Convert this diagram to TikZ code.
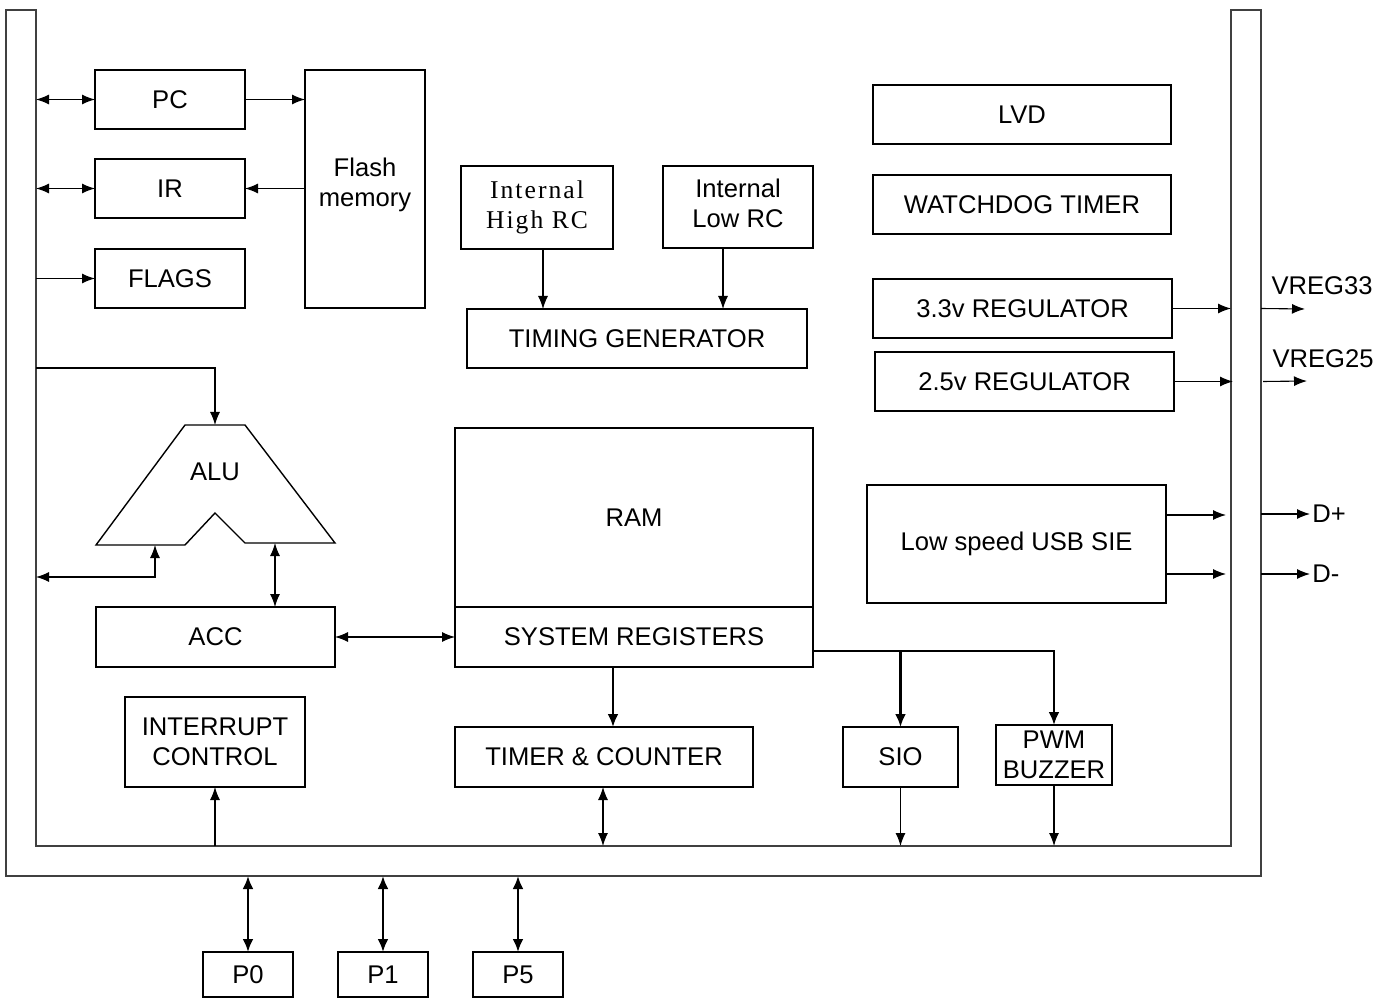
\documentclass[tikz,border=0pt]{standalone}
\usepackage{fontspec}
\setmainfont{Liberation Sans}
\newfontfamily\rcfont[LetterSpace=8]{Liberation Serif}
\usetikzlibrary{arrows.meta}
\newcommand\mybox[6]{\node[box, minimum width={(#4-#2)*0.5pt}, minimum height={(#5-#3)*0.5pt}] (#1) at ({(#2+#4)/2},{(#3+#5)/2}) {#6};}
\begin{document}
\begin{tikzpicture}[x=0.5pt,y=-0.5pt,
  box/.style={draw, line width=0.8pt, inner sep=0pt, outer sep=0pt, align=center, font=\fontsize{12.8}{15}\selectfont},
  lbl/.style={inner sep=0pt, font=\fontsize{12.8}{15}\selectfont},
  bus/.style={draw=black!75, line width=0.6pt},
  con/.style={line width=0.55pt, -{Latex[length=6.5pt,width=5pt]}},
  dcon/.style={line width=0.55pt, {Latex[length=6.5pt,width=5pt]}-{Latex[length=6.5pt,width=5pt]}},
  tcon/.style={line width=1.2pt, -{Latex[length=6.5pt,width=5.5pt]}},
  tdcon/.style={line width=1.2pt, {Latex[length=6.5pt,width=5.5pt]}-{Latex[length=6.5pt,width=5.5pt]}}
]
\useasboundingbox (0,0) rectangle (1391,999);
% bus
\draw[bus] (36,10) -- (6,10) -- (6,876) -- (1261,876) -- (1261,10) -- (1231,10) -- (1231,846) -- (36,846) -- cycle;
\coordinate (busL) at (36,0);
\coordinate (busR) at (1231,0);
\coordinate (busB) at (0,846);
\coordinate (outR) at (1261,0);
\coordinate (outB) at (0,876);
% boxes
\mybox{pc}{95}{70}{245}{129}{PC}
\mybox{ir}{95}{159}{245}{218}{IR}
\mybox{flags}{95}{249}{245}{308}{FLAGS}
\mybox{flash}{305}{70}{425}{308}{Flash\\memory\\[-8pt]}
\mybox{hrc}{461}{166}{613}{249}{{\rcfont Internal}\\{\rcfont High RC}}
\mybox{lrc}{663}{166}{813}{248}{Internal\\Low RC\\[-11pt]}
\mybox{tg}{467}{309}{807}{368}{TIMING GENERATOR}
\mybox{lvd}{873}{85}{1171}{144}{LVD}
\mybox{wdt}{873}{175}{1171}{234}{WATCHDOG TIMER}
\mybox{r33}{873}{279}{1172}{338}{3.3v REGULATOR}
\mybox{r25}{875}{352}{1174}{411}{2.5v REGULATOR}
\mybox{usb}{867}{485}{1166}{603}{Low speed USB SIE}
\mybox{ram}{455}{428}{813}{607}{RAM}
\mybox{sr}{455}{607}{813}{667}{SYSTEM REGISTERS}
\mybox{acc}{96}{607}{335}{667}{ACC}
\mybox{ic}{125}{697}{305}{787}{INTERRUPT\\CONTROL}
\mybox{tc}{455}{727}{753}{787}{TIMER \& COUNTER}
\mybox{sio}{843}{727}{958}{787}{SIO}
\mybox{pwm}{996}{725}{1112}{785}{PWM\\BUZZER}
\mybox{p0}{203}{952}{293}{997}{P0}
\mybox{p1}{338}{952}{428}{997}{P1}
\mybox{p5}{473}{952}{563}{997}{P5}
% ALU
\draw[line width=0.7pt] (185,425) -- (245,425) -- (335,543) -- (245,543) -- (215,513) -- (185,545) -- (96,545) -- cycle;
\node[lbl] (alu) at (215,472) {ALU};
\coordinate (alutop) at (215,425);
\coordinate (aluL) at (155,545);
\coordinate (aluR) at (275,543);
\coordinate (aluIn) at (36,368);
\coordinate (aluOut) at (36,577);
% left connectors
\draw[dcon] (pc.west -| busL) -- (pc.west);
\draw[con] (pc.east) -- (pc.east -| flash.west);
\draw[con] (ir.east -| flash.west) -- (ir.east);
\draw[dcon] (ir.west -| busL) -- (ir.west);
\draw[con] (flags.west -| busL) -- (flags.west);
\draw[con] (aluIn) -| (alutop);
\draw[dcon] (aluL) |- (aluOut);
\draw[dcon] (aluR) -- (aluR |- acc.north);
\draw[dcon] (acc.east) -- (sr.west);
% clocks
\draw[con] ([xshift=3pt]hrc.south) -- ([xshift=3pt]hrc.south |- tg.north);
\draw[con] ([xshift=-7.5pt]lrc.south) -- ([xshift=-7.5pt]lrc.south |- tg.north);
% regulators
\coordinate (v33) at (1305,309);
\coordinate (v25) at (1307,381);
\draw[con] (r33.east) -- (r33.east -| busR);
\draw[con] (r25.east) -- ([xshift=1pt]r25.east -| busR);
\draw[con] (r33.east -| outR) -- (v33);
\draw[con] ([xshift=1pt]r25.east -| outR) -- (v25);
\node[lbl] (lv33) at (1322,286) {VREG33};
\node[lbl] (lv25) at (1323,359) {VREG25};
% usb
\coordinate (dpi) at (1226,515);
\coordinate (dmi) at (1226,574);
\coordinate (dpo) at (1310,514);
\coordinate (dmo) at (1310,574);
\draw[con] (usb.east |- dpi) -- (dpi);
\draw[con] (usb.east |- dmi) -- (dmi);
\draw[con] (dpo -| outR) -- (dpo);
\draw[con] (dmo -| outR) -- (dmo);
\node[lbl, anchor=west] (ldp) at (1312,514) {D+};
\node[lbl, anchor=west] (ldm) at (1312,574) {D-};
% system registers
\coordinate (srtc) at (613,0);
\coordinate (tcb) at (603,0);
\draw[tcon] (sr.south -| srtc) -- (tc.north -| srtc);
\draw[dcon] (tc.south -| tcb) -- (busB -| tcb);
\draw[tcon] ([yshift=-7pt]sr.east) -| (sio.north);
\draw[tcon] ([yshift=-7pt]sr.east) -| (pwm.north);
\draw[con] (sio.south) -- (sio.south |- busB);
\draw[con] (pwm.south) -- (pwm.south |- busB);
\draw[con] (ic.south |- busB) -- (ic.south);
% ports
\draw[tdcon] (p0.north |- outB) -- (p0.north);
\draw[tdcon] (p1.north |- outB) -- (p1.north);
\draw[tdcon] (p5.north |- outB) -- (p5.north);
\end{tikzpicture}
\end{document}
